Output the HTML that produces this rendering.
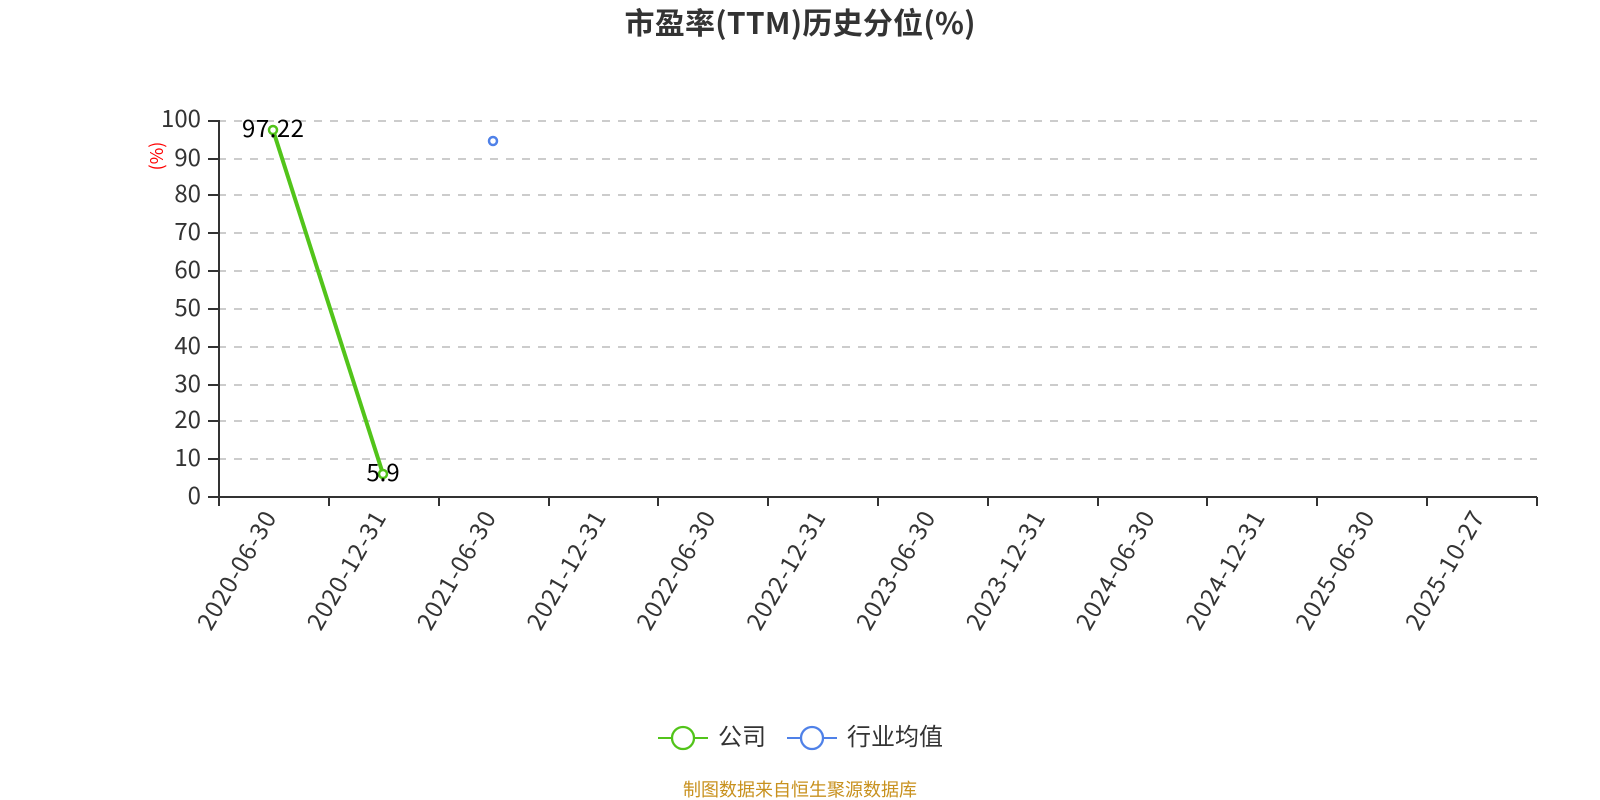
<!DOCTYPE html>
<html>
<head>
<meta charset="utf-8">
<style>
html,body{margin:0;padding:0;background:#fff;width:1600px;height:800px;overflow:hidden}
svg{display:block}
text{font-family:"Noto Sans CJK SC","Liberation Sans",sans-serif}
</style>
</head>
<body>
<svg width="1600" height="800" viewBox="0 0 1600 800" xmlns="http://www.w3.org/2000/svg">
<rect width="1600" height="800" fill="#fff"/>
<text x="800" y="34" text-anchor="middle" font-size="30" font-weight="700" fill="#333" textLength="351">市盈率(TTM)历史分位(%)</text>

<g stroke="#ccc" stroke-width="2" stroke-dasharray="8 8" fill="none">
<path d="M218 121H1537"/>
<path d="M218 159H1537"/>
<path d="M218 195H1537"/>
<path d="M218 233H1537"/>
<path d="M218 271H1537"/>
<path d="M218 309H1537"/>
<path d="M218 347H1537"/>
<path d="M218 385H1537"/>
<path d="M218 421H1537"/>
<path d="M218 459H1537"/>
</g>

<g stroke="#333" stroke-width="2" fill="none">
<path d="M219 120V497"/>
<path d="M208 497H1537"/>
<path d="M208 121H219M208 159H219M208 195H219M208 233H219M208 271H219M208 309H219M208 347H219M208 385H219M208 421H219M208 459H219"/>
<path d="M219 497V506M329 497V506M439 497V506M549 497V506M658 497V506M768 497V506M878 497V506M988 497V506M1098 497V506M1207 497V506M1317 497V506M1427 497V506M1537 497V506"/>
</g>

<g font-size="24" fill="#333" text-anchor="end">
<text x="201" y="127">100</text>
<text x="201" y="166">90</text>
<text x="201" y="202">80</text>
<text x="201" y="240">70</text>
<text x="201" y="278">60</text>
<text x="201" y="316">50</text>
<text x="201" y="354">40</text>
<text x="201" y="392">30</text>
<text x="201" y="428">20</text>
<text x="201" y="466">10</text>
<text x="201" y="504">0</text>
</g>

<text transform="translate(163,156) rotate(-90)" text-anchor="middle" font-size="18" fill="#f00">(%)</text>

<g font-size="24" fill="#333" text-anchor="end">
<text transform="translate(277,517.5) rotate(-60)" textLength="132">2020-06-30</text>
<text transform="translate(386.8,517.5) rotate(-60)" textLength="132">2020-12-31</text>
<text transform="translate(496.7,517.5) rotate(-60)" textLength="132">2021-06-30</text>
<text transform="translate(606.5,517.5) rotate(-60)" textLength="132">2021-12-31</text>
<text transform="translate(716.3,517.5) rotate(-60)" textLength="132">2022-06-30</text>
<text transform="translate(826.2,517.5) rotate(-60)" textLength="132">2022-12-31</text>
<text transform="translate(936,517.5) rotate(-60)" textLength="132">2023-06-30</text>
<text transform="translate(1045.8,517.5) rotate(-60)" textLength="132">2023-12-31</text>
<text transform="translate(1155.6,517.5) rotate(-60)" textLength="132">2024-06-30</text>
<text transform="translate(1265.5,517.5) rotate(-60)" textLength="132">2024-12-31</text>
<text transform="translate(1375.3,517.5) rotate(-60)" textLength="132">2025-06-30</text>
<text transform="translate(1485.1,517.5) rotate(-60)" textLength="132">2025-10-27</text>
</g>

<path d="M273 130L383 474" stroke="#52c41a" stroke-width="4" fill="none"/>
<circle cx="273" cy="130" r="4" fill="#fff" stroke="#52c41a" stroke-width="2.5"/>
<circle cx="383" cy="474" r="4" fill="#fff" stroke="#52c41a" stroke-width="2.5"/>
<circle cx="493" cy="141" r="4" fill="#fff" stroke="#4f81e8" stroke-width="2.5"/>

<text x="242" y="137" font-size="24" fill="#000" textLength="62">97.22</text>
<text x="383" y="481" text-anchor="middle" font-size="24" fill="#000">5.9</text>

<path d="M658 738H708" stroke="#52c41a" stroke-width="2" fill="none"/>
<circle cx="683" cy="738" r="11" fill="#fff" stroke="#52c41a" stroke-width="2.3"/>
<text x="718" y="745" font-size="24" fill="#333">公司</text>

<path d="M787 738H837" stroke="#4f81e8" stroke-width="2" fill="none"/>
<circle cx="812" cy="738" r="11" fill="#fff" stroke="#4f81e8" stroke-width="2.3"/>
<text x="847" y="745" font-size="24" fill="#333">行业均值</text>

<text x="800" y="796" text-anchor="middle" font-size="18" fill="#c8911e">制图数据来自恒生聚源数据库</text>
</svg>
</body>
</html>
